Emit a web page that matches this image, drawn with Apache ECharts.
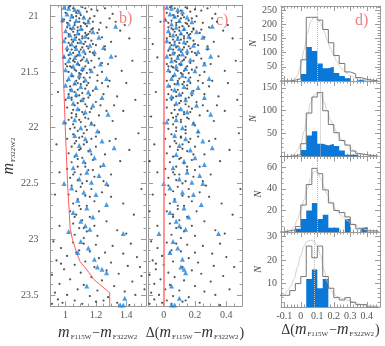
<!DOCTYPE html>
<html><head><meta charset="utf-8">
<script src="https://cdn.jsdelivr.net/npm/echarts@6/dist/echarts.min.js"></script>
<style>html,body{margin:0;padding:0;background:#fff}#c{width:385px;height:346px}</style>
</head><body><div id="c"></div>
<script>
// ---------- DATA ----------
const fidMag   = [20.9, 21.5, 22.0, 22.5, 22.9, 23.0, 23.1, 23.2, 23.3, 23.36, 23.48, 23.6];
const fidColor = [0.972,0.985,0.998,1.013,1.03,1.045,1.068,1.095,1.155,1.185,1.291,1.291];

const bBlack = [
[1.02,20.92],[1.05,20.93],[1.08,20.95],[1.11,20.92],[1.14,20.96],[1.0,20.97],[1.17,20.94],[1.21,20.95],[1.26,20.93],[1.04,20.99],[1.07,21.0],[1.12,21.01],[1.19,21.0],[1.29,21.02],[0.99,21.03],[1.03,21.04],[1.09,21.05],[1.15,21.04],[1.23,21.06],[1.33,21.05],[1.06,21.08],[1.1,21.09],[1.13,21.07],[1.01,21.1],[1.18,21.11],[1.27,21.1],[1.04,21.12],[1.08,21.13],[1.16,21.14],[1.21,21.15],[1.36,21.13],[1.02,21.16],[1.06,21.17],[1.11,21.18],[1.14,21.17],[1.24,21.19],[1.0,21.2],[1.09,21.21],[1.05,21.23],[1.17,21.22],[1.3,21.23],[1.12,21.25],[1.03,21.26],[1.07,21.27],[1.2,21.26],[1.15,21.29],[1.1,21.3],[1.01,21.31],[1.26,21.3],[1.05,21.33],[1.13,21.34],[1.08,21.35],[1.18,21.33],[1.33,21.36],[1.03,21.38],[1.11,21.39],[1.22,21.38],[1.06,21.41],[1.15,21.42],[1.0,21.43],[1.09,21.44],[1.28,21.43],[1.04,21.46],[1.12,21.47],[1.19,21.46],[1.07,21.49],[1.02,21.5],[1.14,21.51],[1.24,21.5],[1.1,21.52],[1.37,21.49],[0.98,21.05],[0.99,21.37],[1.42,21.2],[1.44,21.4],[1.31,20.98],[1.39,21.08],
[1.05,21.54],[1.09,21.56],[1.16,21.55],[1.01,21.58],[1.12,21.59],[1.21,21.58],[1.06,21.61],[1.03,21.63],[1.14,21.62],[1.28,21.63],[1.08,21.66],[1.18,21.67],[1.11,21.69],[1.02,21.7],[1.25,21.7],[1.07,21.72],[1.15,21.73],[1.34,21.72],[1.04,21.75],[1.1,21.76],[1.2,21.77],[1.13,21.79],[1.06,21.8],[1.01,21.82],[1.17,21.83],[1.09,21.84],[1.27,21.85],[1.04,21.87],[1.12,21.88],[1.22,21.89],[1.07,21.9],[1.15,21.92],[1.02,21.93],[1.1,21.95],[1.31,21.94],[1.05,21.97],[1.19,21.98],[1.13,21.99],[0.95,21.68],[1.4,21.6],[1.38,21.85],[1.46,21.75],[1.0,21.96],[1.24,21.6],[1.08,21.6],[1.16,21.86],
[1.03,22.01],[1.08,22.03],[1.14,22.02],[1.22,22.04],[1.05,22.06],[1.11,22.08],[1.01,22.1],[1.17,22.1],[1.07,22.12],[1.29,22.12],[1.12,22.15],[1.04,22.17],[1.2,22.17],[1.09,22.2],[1.15,22.21],[1.02,22.23],[1.26,22.24],[1.06,22.26],[1.11,22.27],[1.18,22.29],[1.04,22.31],[1.13,22.32],[1.36,22.3],[1.08,22.35],[1.23,22.35],[1.01,22.37],[1.15,22.38],[1.06,22.4],[1.1,22.42],[1.3,22.42],[1.19,22.44],[1.03,22.45],[1.08,22.47],[1.14,22.48],[1.42,22.2],[1.48,22.05],[0.94,22.15],[0.96,22.4],[1.25,22.48],[1.33,22.1],
[1.04,22.52],[1.1,22.53],[1.17,22.55],[1.07,22.57],[1.24,22.58],[1.02,22.6],[1.13,22.61],[1.3,22.62],[1.08,22.64],[1.19,22.66],[1.05,22.68],[1.14,22.7],[1.38,22.68],[1.1,22.73],[1.03,22.75],[1.22,22.75],[1.07,22.78],[1.16,22.8],[1.45,22.78],[1.11,22.83],[1.27,22.84],[1.05,22.86],[1.19,22.88],[1.09,22.9],[1.14,22.93],[1.34,22.92],[1.06,22.96],[1.21,22.97],[1.12,22.99],[0.93,22.6],[0.96,22.88],[1.5,22.55],[1.4,22.95],[1.28,22.52],
[0.92,23.02],[1.05,23.03],[1.12,23.04],[1.2,23.05],[1.31,23.06],[1.43,23.04],[0.97,23.08],[1.09,23.1],[1.16,23.11],[1.26,23.12],[1.38,23.13],[1.01,23.15],[1.22,23.17],[1.47,23.16],[0.94,23.19],[1.13,23.2],[1.3,23.21],[1.06,23.23],[1.19,23.25],[1.41,23.24],[0.99,23.27],[1.27,23.28],[1.1,23.3],[1.35,23.31],[0.91,23.32],[1.17,23.34],[1.5,23.33],[1.03,23.36],[1.24,23.37],[1.44,23.38],[0.96,23.4],[1.12,23.41],[1.32,23.42],[1.08,23.45],[1.21,23.46],[1.39,23.47],[0.93,23.48],[1.01,23.5],[1.16,23.51],[1.28,23.52],[1.46,23.5],[0.95,23.54],[1.06,23.55],[1.2,23.56],[1.34,23.57],[0.91,23.58],[1.11,23.58],[1.42,23.59],[0.98,23.57],[1.25,23.55],[1.52,23.45],[1.49,23.25],[0.97,23.22],[1.07,23.12]
];
const bBlackCore = [
[1.03,20.91],[1.07,20.97],[1.1,20.99],[1.13,20.93],[1.16,21.02],[1.05,21.01],[1.09,21.02],[1.01,21.06],[1.12,21.06],[1.06,21.06],[1.14,21.09],[1.08,21.1],[1.03,21.11],[1.17,21.12],[1.11,21.12],[1.05,21.14],[1.13,21.15],[1.09,21.16],[1.02,21.18],[1.07,21.19],[1.15,21.2],[1.11,21.2],[1.04,21.21],[1.08,21.24],[1.13,21.23],[1.18,21.25],[1.02,21.24],[1.06,21.28],[1.11,21.28],[1.14,21.27],[1.09,21.32],[1.04,21.3],[1.16,21.32],[1.07,21.36],[1.12,21.37],[1.02,21.35],[1.1,21.4],[1.05,21.4],[1.17,21.4],[1.08,21.43],[1.13,21.45],[1.03,21.45],[1.11,21.49],[1.06,21.48],[1.16,21.48],[1.09,21.51],[1.04,21.54],[1.12,21.55],[1.07,21.58],[1.15,21.6],[1.1,21.61],[1.03,21.66],[1.13,21.65],[1.06,21.68],[1.09,21.71],[1.16,21.71],[1.04,21.73],[1.12,21.74],[1.08,21.78],[1.14,21.81],[1.05,21.84],[1.11,21.86],[1.07,21.88],[1.13,21.91],[1.04,21.91],[1.09,21.93],[1.17,21.96],[1.06,22.0],[1.12,22.05],[1.09,22.09],[1.14,22.13],[1.06,22.14],[1.1,22.19],[1.17,22.24],[1.08,22.28],[1.13,22.35],[1.05,22.42],[1.11,22.5],[1.16,22.62],[1.09,22.7],[1.06,22.8],[1.12,22.9],[1.19,21.35],[1.21,21.53],[1.23,21.8],[1.2,22.08],[1.01,21.45],[1.0,21.75],[1.15,21.16],[1.18,21.05],[1.22,21.12],[1.26,21.27],[1.24,21.42],[1.29,21.58],[1.32,21.8],[1.18,22.38]
];
const bBlue = [
[0.99,20.92],[1.02,20.93],[1.06,20.94],[1.09,20.96],[1.01,20.98],[1.04,21.0],[1.12,21.01],[0.98,21.03],[1.07,21.04],[1.15,21.05],[1.02,21.07],[1.33,21.09],[1.05,21.1],[1.1,21.11],[1.0,21.13],[1.08,21.15],[1.18,21.14],[1.03,21.17],[1.13,21.18],[1.06,21.2],[1.22,21.19],[0.99,21.22],[1.1,21.23],[1.04,21.25],[1.16,21.26],[1.01,21.28],[1.07,21.29],[1.25,21.28],[1.12,21.31],[1.03,21.33],[1.09,21.34],[1.19,21.32],[0.99,21.36],[1.06,21.37],[1.3,21.36],[1.14,21.39],[1.02,21.4],[1.08,21.42],[1.23,21.43],[1.05,21.45],[1.11,21.47],[1.0,21.48],[1.17,21.49],[1.04,21.52],[1.09,21.53],[1.02,21.56],[1.13,21.57],[1.27,21.56],[1.06,21.6],[1.0,21.62],[1.1,21.63],[1.2,21.64],[1.04,21.66],[1.15,21.68],[1.07,21.7],[1.02,21.72],[1.24,21.73],[1.11,21.75],[1.05,21.78],[1.18,21.8],[1.08,21.83],[1.13,21.86],[1.28,21.88],[0.99,21.95],
[1.06,21.93],[1.17,21.96],[1.1,22.0],[1.21,22.03],[1.06,22.07],[1.13,22.1],[1.24,22.12],[1.09,22.16],[1.32,22.18],[1.16,22.2],[1.07,22.24],[1.19,22.27],[1.12,22.3],[1.25,22.33],[1.05,22.36],[1.14,22.4],[1.22,22.43],[1.09,22.46],[1.17,22.49],[0.99,22.5],[1.27,22.5],[1.04,22.54],[1.12,22.58],[1.2,22.6],[1.08,22.65],[1.27,22.69],[1.14,22.72],[1.05,22.76],[1.18,22.8],[1.1,22.84],[1.13,22.88],[1.38,22.95],[1.02,22.93],[1.16,22.91],
[1.1,23.02],[1.15,23.08],[1.19,23.18],[1.21,23.25],[1.24,23.27],[1.27,23.3],[1.14,23.42],[1.39,23.53],[1.36,23.59],[1.38,23.59],[1.08,23.12]
];
const cBlack = [
[0.04,20.92],[0.07,20.93],[0.11,20.95],[0.14,20.92],[0.17,20.96],[0.02,20.97],[0.2,20.94],[0.24,20.95],[0.28,20.93],[0.06,20.99],[0.09,21.0],[0.13,21.01],[0.21,21.0],[0.31,21.02],[0.01,21.03],[0.05,21.04],[0.1,21.05],[0.16,21.04],[0.25,21.06],[0.34,21.05],[0.08,21.08],[0.12,21.09],[0.15,21.07],[0.03,21.1],[0.19,21.11],[0.29,21.1],[0.06,21.12],[0.1,21.13],[0.18,21.14],[0.23,21.15],[0.38,21.13],[0.04,21.16],[0.08,21.17],[0.13,21.18],[0.16,21.17],[0.26,21.19],[0.02,21.2],[0.11,21.21],[0.07,21.23],[0.19,21.22],[0.32,21.23],[0.14,21.25],[0.05,21.26],[0.09,21.27],[0.22,21.26],[0.17,21.29],[0.12,21.3],[0.03,21.31],[0.28,21.3],[0.07,21.33],[0.15,21.34],[0.1,21.35],[0.2,21.33],[0.35,21.36],[0.05,21.38],[0.13,21.39],[0.24,21.38],[0.08,21.41],[0.17,21.42],[0.02,21.43],[0.11,21.44],[0.3,21.43],[0.06,21.46],[0.14,21.47],[0.21,21.46],[0.09,21.49],[0.04,21.5],[0.16,21.51],[0.26,21.5],[0.12,21.52],[0.39,21.49],[-0.02,21.05],[-0.04,21.37],[0.44,21.2],[0.46,21.4],[0.33,20.98],[0.41,21.08],[-0.07,21.25],
[0.06,21.54],[0.1,21.56],[0.17,21.55],[0.02,21.58],[0.13,21.59],[0.22,21.58],[0.07,21.61],[0.04,21.63],[0.15,21.62],[0.29,21.63],[0.09,21.66],[0.19,21.67],[0.12,21.69],[0.03,21.7],[0.26,21.7],[0.08,21.72],[0.16,21.73],[0.35,21.72],[0.05,21.75],[0.11,21.76],[0.21,21.77],[0.14,21.79],[0.07,21.8],[0.02,21.82],[0.18,21.83],[0.1,21.84],[0.28,21.85],[0.05,21.87],[0.13,21.88],[0.23,21.89],[0.08,21.9],[0.16,21.92],[0.03,21.93],[0.11,21.95],[0.32,21.94],[0.06,21.97],[0.2,21.98],[0.14,21.99],[-0.05,21.68],[0.41,21.6],[0.39,21.85],[0.47,21.75],[0.0,21.96],[0.25,21.6],[0.09,21.6],[0.17,21.86],[-0.08,21.9],
[0.03,22.01],[0.08,22.03],[0.14,22.02],[0.22,22.04],[0.05,22.06],[0.11,22.08],[0.01,22.1],[0.17,22.1],[0.07,22.12],[0.29,22.12],[0.12,22.15],[0.04,22.17],[0.2,22.17],[0.09,22.2],[0.15,22.21],[0.02,22.23],[0.26,22.24],[0.06,22.26],[0.11,22.27],[0.18,22.29],[0.04,22.31],[0.13,22.32],[0.36,22.3],[0.08,22.35],[0.23,22.35],[0.01,22.37],[0.15,22.38],[0.06,22.4],[0.1,22.42],[0.3,22.42],[0.19,22.44],[0.03,22.45],[0.08,22.47],[0.14,22.48],[0.42,22.2],[0.48,22.05],[-0.06,22.15],[-0.04,22.4],[0.25,22.48],[0.33,22.1],[-0.09,22.3],
[0.03,22.52],[0.09,22.53],[0.16,22.55],[0.06,22.57],[0.23,22.58],[0.01,22.6],[0.12,22.61],[0.29,22.62],[0.07,22.64],[0.18,22.66],[0.04,22.68],[0.13,22.7],[0.37,22.68],[0.09,22.73],[0.02,22.75],[0.21,22.75],[0.06,22.78],[0.15,22.8],[0.44,22.78],[0.1,22.83],[0.26,22.84],[0.04,22.86],[0.18,22.88],[0.08,22.9],[0.13,22.93],[0.33,22.92],[0.05,22.96],[0.2,22.97],[0.11,22.99],[-0.07,22.6],[-0.04,22.88],[0.49,22.55],[0.39,22.95],[0.27,22.52],[-0.09,22.75],
[-0.08,23.02],[0.02,23.03],[0.08,23.04],[0.15,23.05],[0.25,23.06],[0.36,23.04],[-0.04,23.08],[0.05,23.1],[0.11,23.11],[0.2,23.12],[0.31,23.13],[-0.01,23.15],[0.16,23.17],[0.4,23.16],[-0.07,23.19],[0.06,23.2],[0.22,23.21],[0.0,23.23],[0.12,23.25],[0.32,23.24],[-0.05,23.27],[0.18,23.28],[0.03,23.3],[0.24,23.31],[-0.09,23.32],[0.07,23.34],[0.38,23.33],[-0.02,23.36],[0.13,23.37],[0.3,23.38],[-0.06,23.4],[0.04,23.41],[0.2,23.42],[0.01,23.45],[0.1,23.46],[0.26,23.47],[-0.08,23.48],[-0.03,23.5],[0.06,23.51],[0.16,23.52],[0.33,23.5],[-0.06,23.54],[0.02,23.55],[0.12,23.56],[0.23,23.57],[-0.09,23.58],[0.05,23.58],[0.36,23.59],[-0.01,23.57],[0.14,23.55],[0.42,23.45],[0.45,23.25],[-0.05,23.22],[0.04,23.12]
];
const cBlackCore = [
[0.05,20.91],[0.09,20.97],[0.12,20.99],[0.15,20.93],[0.18,21.02],[0.07,21.01],[0.11,21.02],[0.03,21.06],[0.14,21.06],[0.08,21.06],[0.16,21.09],[0.1,21.1],[0.05,21.11],[0.19,21.12],[0.13,21.12],[0.07,21.14],[0.15,21.15],[0.11,21.16],[0.04,21.18],[0.09,21.19],[0.17,21.2],[0.13,21.2],[0.06,21.21],[0.1,21.24],[0.15,21.23],[0.2,21.25],[0.04,21.24],[0.08,21.28],[0.13,21.28],[0.16,21.27],[0.11,21.32],[0.06,21.3],[0.18,21.32],[0.09,21.36],[0.14,21.37],[0.04,21.35],[0.12,21.4],[0.07,21.4],[0.19,21.4],[0.1,21.43],[0.15,21.45],[0.05,21.45],[0.13,21.49],[0.08,21.48],[0.18,21.48],[0.11,21.51],[0.06,21.54],[0.14,21.55],[0.09,21.58],[0.17,21.6],[0.12,21.61],[0.05,21.66],[0.15,21.65],[0.08,21.68],[0.11,21.71],[0.18,21.71],[0.06,21.73],[0.14,21.74],[0.1,21.78],[0.16,21.81],[0.07,21.84],[0.13,21.86],[0.09,21.88],[0.15,21.91],[0.06,21.91],[0.11,21.93],[0.19,21.96],[0.08,22.0],[0.14,22.05],[0.11,22.09],[0.16,22.13],[0.08,22.14],[0.12,22.19],[0.19,22.24],[0.1,22.28],[0.15,22.35],[0.07,22.42],[0.12,22.5],[0.16,22.62],[0.09,22.7],[0.06,22.8],[0.11,22.9],[0.21,21.35],[0.23,21.53],[0.25,21.8],[0.22,22.08],[0.03,21.45],[0.02,21.75],[0.17,21.16],[0.2,21.05],[0.24,21.12],[0.28,21.27],[0.26,21.42],[0.31,21.58],[0.34,21.8],[0.2,22.38]
];
const cBlue = [
[0.02,20.92],[0.05,20.93],[0.09,20.94],[0.12,20.96],[0.04,20.98],[0.07,21.0],[0.15,21.01],[0.01,21.03],[0.1,21.04],[0.18,21.05],[0.05,21.07],[0.31,21.09],[0.08,21.1],[0.13,21.11],[0.03,21.13],[0.11,21.15],[0.21,21.14],[0.06,21.17],[0.16,21.18],[0.09,21.2],[0.25,21.19],[0.02,21.22],[0.13,21.23],[0.07,21.25],[0.19,21.26],[0.04,21.28],[0.1,21.29],[0.28,21.28],[0.15,21.31],[0.06,21.33],[0.12,21.34],[0.22,21.32],[0.02,21.36],[0.09,21.37],[0.3,21.36],[0.17,21.39],[0.05,21.4],[0.11,21.42],[0.26,21.43],[0.08,21.45],[0.14,21.47],[0.03,21.48],[0.2,21.49],[0.07,21.52],[0.12,21.53],[0.05,21.56],[0.16,21.57],[0.29,21.56],[0.09,21.6],[0.03,21.62],[0.13,21.63],[0.22,21.64],[0.07,21.66],[0.18,21.68],[0.1,21.7],[0.05,21.72],[0.26,21.73],[0.14,21.75],[0.08,21.78],[0.21,21.8],[0.11,21.83],[0.15,21.86],[0.3,21.88],[0.02,21.95],
[0.08,21.93],[0.19,21.96],[0.12,22.0],[0.22,22.03],[0.07,22.07],[0.14,22.1],[0.25,22.12],[0.1,22.16],[0.31,22.18],[0.17,22.2],[0.08,22.24],[0.2,22.27],[0.13,22.3],[0.26,22.33],[0.06,22.36],[0.15,22.4],[0.23,22.43],[0.1,22.46],[0.18,22.49],[0.0,22.5],[0.25,22.5],[0.04,22.54],[0.12,22.58],[0.19,22.6],[0.07,22.65],[0.24,22.69],[0.13,22.72],[0.04,22.76],[0.16,22.8],[0.08,22.84],[0.1,22.88],[0.35,22.95],[-0.03,22.95],[0.14,22.91],
[0.06,23.02],[0.09,23.08],[0.12,23.18],[0.11,23.25],[0.13,23.27],[0.14,23.3],[0.05,23.42],[0.1,23.53],[0.05,23.59],[0.07,23.59],[0.04,23.12]
];

// histogram bin edges (19 edges, 18 bins)
const binEdges = [-0.133,-0.1,-0.067,-0.033,0,0.033,0.067,0.1,0.133,0.167,0.2,0.233,0.267,0.3,0.333,0.367,0.4,0.433,0.467];
const gray1 = [0,0,3,8,75,225,225,215,182,135,90,62,32,25,12,6,3,1];
const blue1 = [0,0,0,0,25,120,106,62,45,50,28,18,10,0,4,0,0,0];
const gray2 = [0,0,2,4,28,95,130,140,100,70,52,35,25,12,6,4,2,1];
const blue2 = [0,0,0,0,14,46,55,28,24,28,23,13,4,4,0,0,0,0];
const gray3 = [0,1,2,5,25,44,59,54,39,27,20,18,14,7,3,4,1,1];
const blue3 = [0,0,0,3,12,20,27,12,16,4,4,0,12,0,0,4,0,0];
const gray4 = [5,5,7,10,13,26,21,26,13,8,4,3,4,2,1,1,0,0];
const blue4 = [0,0,0,0,0,12,16,8,12,0,0,0,0,0,0,0,0,0];

const curveX = [-0.12,-0.1,-0.08,-0.06,-0.04,-0.02,0,0.02,0.04,0.06,0.08,0.1,0.12,0.14,0.16,0.18,0.2,0.22,0.24,0.26,0.28,0.3,0.33,0.36,0.4,0.44,0.48];
const curve1 = [0,0,0,1,5,20,55,110,170,210,226,224,205,178,145,115,90,68,50,37,27,19,11,6,3,1,0];
const curve2 = [0,0,1,2,5,13,28,55,90,118,134,140,136,120,100,80,64,52,40,32,25,18,11,6,3,1,0];
const curve3 = [0,0,1,2,5,12,20,30,40,50,56,57,50,42,35,28,23,19,16,13,11,9,6,4,2,1,0];
const curve4 = [4,5,7,9,12,17,22,26,28,28.5,28,26,22,16,11,7.5,5.5,4.5,4,3.5,3,2.5,2,1.2,0.8,0.5,0.3];
const dottedX = [0.105, 0.115, 0.105, 0.08];

// tick label lists
const magTicks = [21, 21.5, 22, 22.5, 23, 23.5];
const colTicks = [1, 1.2, 1.4];
const dcolTicks = [0, 0.2, 0.4];
const dTicks = [-0.1, 0, 0.1, 0.2, 0.3, 0.4];
const nTicks = [[50,100,150,200,250],[50,100,150],[20,40,60],[10,20,30]];
const nMax = [265, 165, 70, 32];
const nMinorStep = [10, 10, 5, 2];

// ---------- CHART ----------
function steps(a, b, s) { const r = []; for (let v = a; v <= b + 1e-9; v += s) r.push(Math.round(v * 1000) / 1000); return r; }
const AX = '#9a9a9a', LB = '#555', FONT = 'Liberation Serif';
const xAxes = [], yAxes = [];
function mk(gridIndex, pos, min, max, ticks, len, labels, extra) {
  return Object.assign({
    type: 'value', gridIndex, position: pos, min, max, silent: true,
    axisLine: { show: true, onZero: false, lineStyle: { color: AX, width: 1 } },
    axisTick: { show: true, inside: true, length: len, customValues: ticks, lineStyle: { color: AX, width: 1 } },
    axisLabel: labels ? { show: true, customValues: labels, color: LB, fontFamily: FONT, fontSize: 10, margin: 4 } : { show: false },
    splitLine: { show: false }
  }, extra || {});
}
function frame(g, xr, yr, xMaj, xMin, yMaj, yMin, xLab, yLab, inv, xExtra, yExtra) {
  const xi = xAxes.length;
  xAxes.push(mk(g, 'bottom', xr[0], xr[1], xMaj, 5, xLab, xExtra));
  xAxes.push(mk(g, 'top', xr[0], xr[1], xMaj, 5, null));
  xAxes.push(mk(g, 'bottom', xr[0], xr[1], xMin, 2.5, null, { axisLine: { show: false, onZero: false } }));
  xAxes.push(mk(g, 'top', xr[0], xr[1], xMin, 2.5, null, { axisLine: { show: false, onZero: false } }));
  const yi = yAxes.length;
  yAxes.push(mk(g, 'left', yr[0], yr[1], yMaj, 5, yLab, Object.assign({ inverse: inv }, yExtra || {})));
  yAxes.push(mk(g, 'right', yr[0], yr[1], yMaj, 5, null, { inverse: inv }));
  yAxes.push(mk(g, 'left', yr[0], yr[1], yMin, 2.5, null, { inverse: inv, axisLine: { show: false, onZero: false } }));
  yAxes.push(mk(g, 'right', yr[0], yr[1], yMin, 2.5, null, { inverse: inv, axisLine: { show: false, onZero: false } }));
  return { xi, yi };
}
const titleRich = {
  i: { fontFamily: FONT, fontStyle: 'italic', fontSize: 16, color: '#333' },
  s: { fontFamily: FONT, fontSize: 7, color: '#333', verticalAlign: 'bottom', padding: [6, 1, 0, 1] },
  t: { fontFamily: FONT, fontSize: 14, color: '#333' }
};
const xTitleB = '{i|m}{s|F115W}{t|−}{i|m}{s|F322W2}';
const xTitleD = '{t|Δ(}{i|m}{s|F115W}{t|−}{i|m}{s|F322W2}{t|)}';
const xNameOpts = (txt) => ({ name: txt, nameLocation: 'middle', nameGap: 13, nameTextStyle: { rich: titleRich } });

const grids = [
  { left: 47, top: 5, width: 99, height: 302 },
  { left: 148, top: 5, width: 94, height: 302 },
  { left: 281, top: 6, width: 99, height: 75 },
  { left: 281, top: 81, width: 99, height: 75.5 },
  { left: 281, top: 156.5, width: 99, height: 75.5 },
  { left: 281, top: 232, width: 99, height: 75 }
];
const magMinor = steps(20.9, 23.6, 0.1);
const fb = frame(0, [0.9, 1.53], [20.9, 23.6], colTicks, steps(0.9, 1.5, 0.05), magTicks, magMinor, colTicks, magTicks, true,
  xNameOpts(xTitleB),
  { name: '{i|m}{s|F322W2}', nameLocation: 'middle', nameRotate: 90, nameGap: 24, nameTextStyle: { rich: titleRich }, axisLabel: { show: true, customValues: magTicks, color: LB, fontFamily: FONT, fontSize: 10, margin: 12 } });
const fc = frame(1, [-0.1, 0.5], [20.9, 23.6], dcolTicks, steps(-0.1, 0.5, 0.05), magTicks, magMinor, dcolTicks, null, true, xNameOpts(xTitleD));
const grays = [gray1, gray2, gray3, gray4], blues = [blue1, blue2, blue3, blue4], curves = [curve1, curve2, curve3, curve4];
const fd = [];
for (let p = 0; p < 4; p++) {
  const last = p === 3;
  fd.push(frame(2 + p, [-0.12, 0.48], [0, nMax[p]], dTicks, steps(-0.12, 0.48, 0.02), nTicks[p], steps(0, nMax[p], nMinorStep[p]),
    last ? dTicks : null, nTicks[p], false, last ? xNameOpts(xTitleD) : null,
    { name: 'N', nameLocation: 'middle', nameRotate: 90, nameGap: 15, nameTextStyle: { fontFamily: FONT, fontStyle: 'italic', fontSize: 10, color: '#444' } }));
}
function stepData(edges, vals) {
  const d = [[edges[0], 0]];
  for (let i = 0; i < vals.length; i++) d.push([edges[i], vals[i]]);
  d.push([edges[edges.length - 1], 0]);
  return d;
}
const dotStyle = { color: '#262626' };
const series = [
  { type: 'scatter', xAxisIndex: fb.xi, yAxisIndex: fb.yi, data: bBlack.concat(bBlackCore), symbol: 'circle', symbolSize: 2.2, itemStyle: dotStyle, z: 2 },
  { type: 'line', xAxisIndex: fb.xi, yAxisIndex: fb.yi, data: fidColor.map((c, i) => [c, fidMag[i]]), symbol: 'none', lineStyle: { color: '#ff5c5c', width: 1 }, z: 3 },
  { type: 'scatter', xAxisIndex: fb.xi, yAxisIndex: fb.yi, data: bBlue, symbol: 'triangle', symbolSize: 5, itemStyle: { color: '#1d82dc' }, z: 4 },
  { type: 'scatter', xAxisIndex: fc.xi, yAxisIndex: fc.yi, data: cBlack.concat(cBlackCore), symbol: 'circle', symbolSize: 2.2, itemStyle: dotStyle, z: 2,
    markLine: { silent: true, symbol: 'none', label: { show: false }, lineStyle: { type: 'solid', color: '#ff7070', width: 1.5 }, data: [{ xAxis: 0 }] } },
  { type: 'scatter', xAxisIndex: fc.xi, yAxisIndex: fc.yi, data: cBlue, symbol: 'triangle', symbolSize: 5, itemStyle: { color: '#1d82dc' }, z: 4 }
];
for (let p = 0; p < 4; p++) {
  const a = fd[p];
  series.push({ type: 'line', xAxisIndex: a.xi, yAxisIndex: a.yi, data: stepData(binEdges, blues[p]), step: 'end', symbol: 'none',
    lineStyle: { width: 0, opacity: 0 }, areaStyle: { color: '#0a78d8', opacity: 1 }, z: 2 });
  series.push({ type: 'line', xAxisIndex: a.xi, yAxisIndex: a.yi, data: curveX.map((x, i) => [x, curves[p][i]]), smooth: 0.4, smoothMonotone: 'x', symbol: 'none',
    lineStyle: { color: '#d0d0d0', width: 1 }, z: 3 });
  series.push({ type: 'line', xAxisIndex: a.xi, yAxisIndex: a.yi, data: stepData(binEdges, grays[p]), step: 'end', symbol: 'none',
    lineStyle: { color: '#777', width: 1 }, z: 4,
    markLine: { silent: true, symbol: 'none', label: { show: false }, lineStyle: { type: 'dotted', color: '#bbb', width: 1 }, data: [{ xAxis: dottedX[p] }] } });
}
const chart = echarts.init(document.getElementById('c'), null, { renderer: 'canvas' });
chart.setOption({
  animation: false,
  backgroundColor: '#fff',
  grid: grids,
  xAxis: xAxes,
  yAxis: yAxes,
  series,
  graphic: [
    { type: 'text', left: 119, top: 11, style: { text: 'b)', fill: '#f08080', font: '16px "Liberation Serif"' } },
    { type: 'text', left: 216, top: 13, style: { text: 'c)', fill: '#f08080', font: '16px "Liberation Serif"' } },
    { type: 'text', left: 355, top: 13, style: { text: 'd)', fill: '#f08080', font: '16px "Liberation Serif"' } }
  ]
});
</script></body></html>
